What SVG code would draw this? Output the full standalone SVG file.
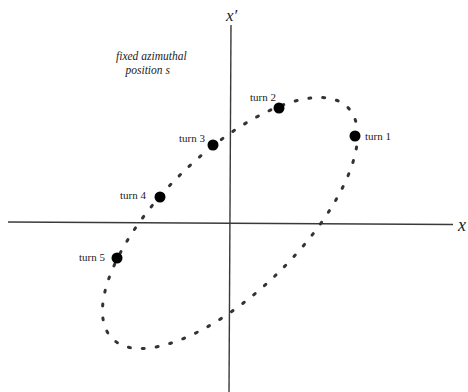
<svg xmlns="http://www.w3.org/2000/svg" width="468" height="392" viewBox="0 0 468 392">
<style>
.axis{stroke:#3a3a3a;stroke-width:1.4;fill:none}
.orbit{stroke:#333;stroke-width:3;fill:none;stroke-linecap:round;stroke-dasharray:1.4 8.6}
.turn{fill:#000}
.lbl{font-family:"Liberation Serif",serif;font-size:11px;fill:#222}
.ital{font-family:"Liberation Serif",serif;font-style:italic;fill:#222}
</style>
<rect width="468" height="392" fill="#fff"/>
<g id="connectors">
<line id="axis-x" class="axis" x1="8" y1="222" x2="453" y2="224.5"/>
<line id="axis-xp" class="axis" x1="231" y1="25" x2="229" y2="392"/>
<ellipse id="orbit" class="orbit" cx="230" cy="223" rx="165" ry="69.3" pathLength="550" transform="rotate(-44.35 230 223)"/>
</g>
<g id="label-x"><text class="ital" x="458" y="231" font-size="18">x</text></g>
<g id="label-xp"><text class="ital" x="226" y="21" font-size="17">x′</text></g>
<g id="note"><text class="ital" x="116" y="60" font-size="11.5">fixed azimuthal</text><text class="ital" x="125.5" y="74" font-size="11.5">position s</text></g>
<g id="turn1"><circle class="turn" cx="355" cy="136" r="5.5"/><text class="lbl" x="365" y="140">turn 1</text></g>
<g id="turn2"><circle class="turn" cx="279" cy="108" r="5.5"/><text class="lbl" x="250" y="101">turn 2</text></g>
<g id="turn3"><circle class="turn" cx="213" cy="145" r="5.5"/><text class="lbl" x="179" y="141.5">turn 3</text></g>
<g id="turn4"><circle class="turn" cx="160" cy="197" r="5.5"/><text class="lbl" x="120" y="198.5">turn 4</text></g>
<g id="turn5"><circle class="turn" cx="117" cy="258" r="5.5"/><text class="lbl" x="79" y="261">turn 5</text></g>
</svg>
